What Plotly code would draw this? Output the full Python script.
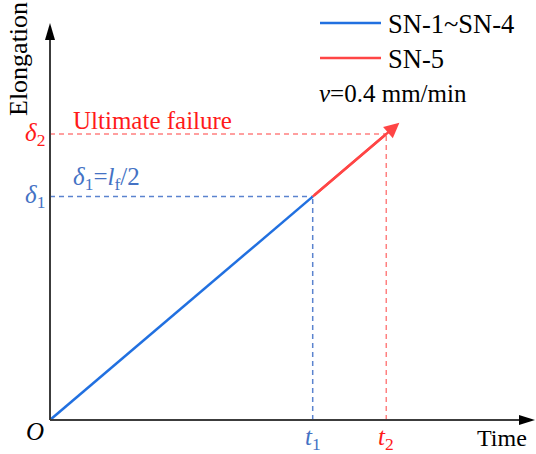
import plotly.graph_objects as go

# Loading history: time vs. elongation (normalised units)
series_names = ["SN-1~SN-4", "SN-5"]
series_colors = ["#2170E0", "#FF4545"]
blue_t = [0.0, 1.0]          # SN-1~SN-4 run up to t1
blue_d = [0.0, 1.0]
red_t = [1.0, 1.28]          # SN-5 continues to t2
red_d = [1.0, 1.28]
arrow_tip = (1.33, 1.33)     # SN-5 arrow continues past failure point
t_marks = [1.0, 1.28]        # t1, t2
d_marks = [1.0, 1.28]        # delta1, delta2
t_labels = ["<i>t</i><sub>1</sub>", "<i>t</i><sub>2</sub>"]
d_labels = ["<i>δ</i><sub>1</sub>", "<i>δ</i><sub>2</sub>"]
mark_colors = ["#4472C4", "#FF1A1A"]
guide_colors = ["#5B83CF", "#FF8080"]
rate_text = "<i>v</i>=0.4 mm/min"
X_MAX, Y_MAX = 1.85, 1.88

W, H = 536, 454
ML, MB = 50, 34
PW, PH = W - ML, H - MB
FONT = "'Liberation Serif', 'Times New Roman', Times, serif"


def px(x):
    return (x - ML) / PW


def py(y):
    return (PH - y) / PH


def text(x, y, s, size=25, color="black", anchor="left", angle=0, xref="paper", yref="paper"):
    return dict(xref=xref, yref=yref, x=x, y=y, text=s, showarrow=False,
                xanchor=anchor, yanchor="middle", textangle=angle,
                font=dict(family=FONT, size=size, color=color))


fig = go.Figure()
fig.add_trace(go.Scatter(x=blue_t, y=blue_d, mode="lines",
                         line=dict(color=series_colors[0], width=2.5),
                         name=series_names[0], showlegend=False))
fig.add_trace(go.Scatter(x=red_t, y=red_d, mode="lines",
                         line=dict(color=series_colors[1], width=2.5),
                         name=series_names[1], showlegend=False))

shapes = []
# dashed guides to the axes
for t, d, c in zip(t_marks, d_marks, guide_colors):
    shapes.append(dict(type="line", xref="x", yref="y", x0=0, x1=t, y0=d, y1=d,
                       line=dict(color=c, width=1.5, dash="5px,4px"), layer="below"))
    shapes.append(dict(type="line", xref="x", yref="y", x0=t, x1=t, y0=0, y1=d,
                       line=dict(color=c, width=1.5, dash="5px,4px"), layer="below"))

# axes with arrowheads
axc = "#3C3C3C"
shapes.append(dict(type="line", xref="paper", yref="paper",
                   x0=px(50), x1=px(522), y0=py(420), y1=py(420),
                   line=dict(color=axc, width=2)))
shapes.append(dict(type="line", xref="paper", yref="paper",
                   x0=px(50), x1=px(50), y0=py(420), y1=py(38),
                   line=dict(color=axc, width=2)))
shapes.append(dict(type="path", xref="paper", yref="paper",
                   path=f"M{px(535)},{py(420)} L{px(519)},{py(415)} L{px(519)},{py(425)} Z",
                   fillcolor="black", line=dict(width=0)))
shapes.append(dict(type="path", xref="paper", yref="paper",
                   path=f"M{px(50)},{py(23)} L{px(45)},{py(40)} L{px(55)},{py(40)} Z",
                   fillcolor="black", line=dict(width=0)))

# legend
for i, (n, c) in enumerate(zip(series_names, series_colors)):
    yy = 23 + 35 * i
    shapes.append(dict(type="line", xref="paper", yref="paper",
                       x0=px(320), x1=px(381), y0=py(yy), y1=py(yy),
                       line=dict(color=c, width=2.5)))

ann = []
for i, n in enumerate(series_names):
    yy = 23 + 35 * i
    ann.append(text(px(386), py(yy + 1), n, size=26.5))
ann.append(text(px(317), py(93), rate_text, size=25))

# SN-5 arrow
ann.append(dict(x=arrow_tip[0], y=arrow_tip[1], ax=red_t[0], ay=red_d[0],
                xref="x", yref="y", axref="x", ayref="y", text="",
                showarrow=True, arrowhead=2, arrowsize=1.2, arrowwidth=2.5,
                arrowcolor=series_colors[1]))

# tick labels
for t, lab, c in zip(t_marks, t_labels, mark_colors):
    ann.append(text(t, py(438), lab, color=c, anchor="center", xref="x"))
for d, lab, c in zip(d_marks, d_labels, mark_colors):
    ann.append(text(px(35), d, lab, color=c, anchor="center", yref="y"))

ann.append(text(px(35), py(432), "<i>O</i>", anchor="center"))
ann.append(text(px(502), py(438), "Time", size=24, anchor="center"))
ann.append(text(px(19), py(59), "Elongation", size=26, anchor="center", angle=-90))
ann.append(text(px(71), py(120), "Ultimate failure", color=mark_colors[1]))
ann.append(text(px(71), py(178), "<i>δ</i><sub>1</sub>=<i>l</i><sub>f</sub>/2",
                color=mark_colors[0]))

fig.update_layout(
    width=W, height=H,
    margin=dict(l=ML, r=0, t=0, b=MB),
    paper_bgcolor="white", plot_bgcolor="white",
    xaxis=dict(range=[0, X_MAX], visible=False, fixedrange=True),
    yaxis=dict(range=[0, Y_MAX], visible=False, fixedrange=True),
    shapes=shapes, annotations=ann, showlegend=False,
)

fig.write_html("out.html")
